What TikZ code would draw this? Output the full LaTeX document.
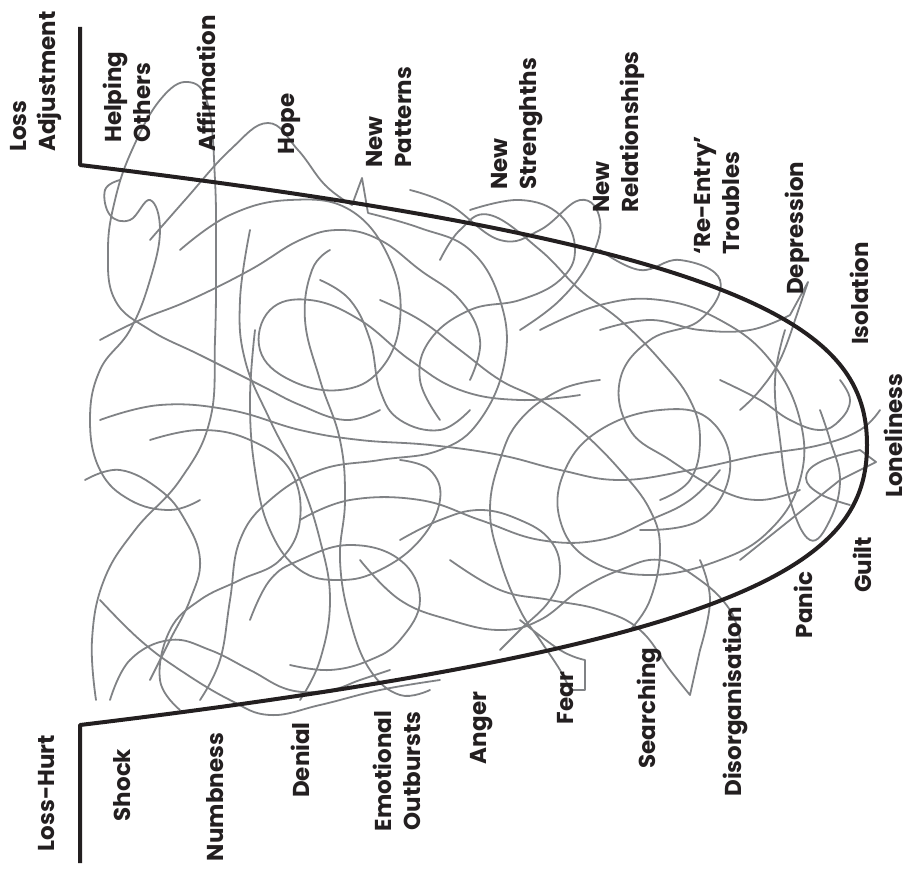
\documentclass[tikz,border=0pt]{standalone}
\usepackage{fontspec}
\setmainfont{Poppins}
\usetikzlibrary{positioning}
\definecolor{CurveBlack}{HTML}{231F20}
\definecolor{ScribbleGray}{HTML}{808285}

\tikzset{
  lbl/.style={rotate=90,inner sep=0pt,text=CurveBlack,
    font=\fontsize{23}{29}\selectfont\bfseries},
  toplbl/.style={lbl,anchor=west,align=left},
  botlbl/.style={lbl,anchor=center,align=center},
  scribble/.style={ScribbleGray,line width=1.8pt},
}

\begin{document}
\begin{tikzpicture}[x=1pt,y=-1pt,line cap=round,line join=round]
  \useasboundingbox (0,0) rectangle (910,872);
  \coordinate (Top) at (80,27);
  \coordinate (TopCorner) at (80,165);
  \coordinate (Vertex) at (867,445);
  \coordinate (BotCorner) at (80,725);
  \coordinate (Bottom) at (80,863);

  % the tangle
  \draw[scribble] plot[smooth,tension=0.7] coordinates {(96,700) (92,640) (104,580) (135,530) (180,480) (210,420) (215,340) (216,260) (215,180) (208,105) (188,82) (160,100) (132,150) (115,200) (108,250) (115,300) (150,330) (200,355) (260,385) (300,405) (345,420) (380,410)};
  \draw[scribble] plot[smooth,tension=0.7] coordinates {(150,240) (185,200) (230,150) (268,123) (298,150) (325,185) (352,205)} -- (362,178) -- (368,213) plot[smooth,tension=0.7] coordinates {(368,213) (420,228) (470,250) (500,300) (505,360) (480,420) (440,450) (380,460) (320,470) (270,500) (240,540) (230,600) (220,660) (200,700)};
  \draw[scribble] plot[smooth,tension=0.7] coordinates {(100,420) (160,405) (230,410) (300,430) (360,440) (430,445) (500,455) (560,470) (620,480) (690,470) (760,455) (820,445) (860,430) (880,410)};
  \draw[scribble] plot[smooth,tension=0.7] coordinates {(540,330) (600,305) (660,300) (720,320) (770,360) (800,420) (800,480) (770,530) (720,560) (650,575) (590,560) (560,520) (565,470) (600,430) (660,410) (710,420) (730,470) (700,520) (640,530)};
  \draw[scribble] plot[smooth,tension=0.7] coordinates {(330,250) (312,270) (305,320) (320,380) (340,440) (345,500) (340,560) (350,620) (370,670) (400,695) (430,690)};
  \draw[scribble] plot[smooth,tension=0.7] coordinates {(255,330) (250,400) (255,470) (270,530) (300,570) (340,580) (380,570) (420,540) (440,500) (430,470) (400,460)};
  \draw[scribble] plot[smooth,tension=0.7] coordinates {(450,560) (500,590) (550,600) (600,610) (640,630) (670,670) (690,695)} -- (700,650) plot[smooth,tension=0.7] coordinates {(700,650) (710,600) (700,560)};
  \draw[scribble] plot[smooth,tension=0.7] coordinates {(520,620) (560,650) (585,660)} -- (585,690) -- (570,690) plot[smooth,tension=0.7] coordinates {(570,690) (560,670) (540,640) (520,610) (500,560) (490,510) (500,460) (520,420) (560,390) (600,380)};
  \draw[scribble] plot[smooth,tension=0.7] coordinates {(470,210) (520,200) (560,215) (575,250) (560,280) (520,300) (470,310) (430,340) (420,380) (440,420)};
  \draw[scribble] plot[smooth,tension=0.7] coordinates {(600,330) (650,320) (700,330) (750,330) (790,315)} -- (808,282) -- (795,320) plot[smooth,tension=0.7] coordinates {(795,320) (780,360) (760,390) (740,410)};
  \draw[scribble] plot[smooth,tension=0.7] coordinates {(785,330) (775,380) (780,440) (790,500) (810,540) (830,520) (840,480) (830,440) (820,410)};
  \draw[scribble] plot[smooth,tension=0.7] coordinates {(740,560) (790,520) (840,480)} -- (876,462) -- (860,450) plot[smooth,tension=0.7] coordinates {(860,450) (820,462) (806,478) (820,494) (850,505)};
  \draw[scribble] plot[smooth,tension=0.7] coordinates {(100,600) (140,640) (180,670) (230,700) (270,715) (320,705) (380,690) (440,680)};
  \draw[scribble] plot[smooth,tension=0.7] coordinates {(85,480) (120,470) (160,490) (185,520) (200,560) (190,600) (170,640) (150,680)};
  \draw[scribble] plot[smooth,tension=0.7] coordinates {(410,190) (450,205) (500,240) (540,230) (580,200) (600,220) (590,260) (560,300) (520,330)};
  \draw[scribble] plot[smooth,tension=0.7] coordinates {(100,340) (140,320) (190,300) (250,270) (300,240) (340,230) (380,240) (420,270) (460,300) (480,340) (470,380)};
  \draw[scribble] plot[smooth,tension=0.7] coordinates {(300,520) (350,500) (420,500) (480,520) (540,540) (600,540) (650,520) (690,500) (720,470)};
  \draw[scribble] plot[smooth,tension=0.7] coordinates {(250,230) (240,300) (245,360) (270,420) (300,480) (320,540) (330,600) (320,660) (300,700)};
  \draw[scribble] plot[smooth,tension=0.7] coordinates {(120,180) (105,190) (110,215) (130,220) (150,200) (160,230) (150,280) (130,330) (100,370) (90,420) (100,470) (130,500) (170,510) (200,500)};
  \draw[scribble] plot[smooth,tension=0.7] coordinates {(180,250) (230,215) (290,200) (350,210) (390,260) (400,320) (380,370) (340,390) (290,380) (260,350) (270,310) (310,300) (360,320) (410,360) (460,390) (520,400) (580,395)};
  \draw[scribble] plot[smooth,tension=0.7] coordinates {(600,250) (640,270) (680,260) (720,280) (700,320) (650,340) (620,380) (630,430) (670,460) (720,490) (760,500) (800,490)};
  \draw[scribble] plot[smooth,tension=0.7] coordinates {(150,440) (200,430) (250,440) (290,470) (300,520) (280,560) (240,580) (200,600) (170,630) (160,680) (180,710)};
  \draw[scribble] plot[smooth,tension=0.7] coordinates {(360,560) (400,600) (450,620) (500,630) (540,620) (580,590) (620,570) (660,560) (700,580) (730,610) (740,640)};
  \draw[scribble] plot[smooth,tension=0.7] coordinates {(440,260) (460,230) (490,215) (540,250) (580,290) (620,320) (660,360) (690,400) (700,440) (690,480) (660,500)};
  \draw[scribble] plot[smooth,tension=0.7] coordinates {(250,620) (270,580) (300,560) (350,545) (400,560) (420,600) (400,640) (370,660) (330,670) (290,665)};
  \draw[scribble] plot[smooth,tension=0.7] coordinates {(380,300) (420,320) (460,350) (500,380) (540,400) (580,430) (620,470) (650,510) (660,550) (650,600) (630,630)};
  \draw[scribble] plot[smooth,tension=0.7] coordinates {(110,700) (130,660) (170,640) (210,650) (250,670) (290,690) (330,690) (360,680) (390,670)};
  \draw[scribble] plot[smooth,tension=0.7] coordinates {(720,380) (760,400) (790,420) (820,430) (840,420) (850,400) (840,380)};
  \draw[scribble] plot[smooth,tension=0.7] coordinates {(500,650) (520,630) (550,600) (560,570) (550,540) (520,520) (480,510) (440,520) (400,540)};
  \draw[scribble] plot[smooth,tension=0.7] coordinates {(320,280) (350,300) (370,340) (380,390) (400,420) (440,430) (470,410)};

  % the outline
  \draw[CurveBlack,line width=4pt,line cap=butt] (Top) -- (TopCorner)
    .. controls (760,247) and (867,330) .. (Vertex)
    .. controls (867,560) and (760,643) .. (BotCorner) -- (Bottom);

  % labels above the curve
  \node[toplbl] (lossadj) at (36,152) {Loss\\Adjustment};
  \node[toplbl] (helping) at (127,143) {Helping\\Others};
  \node[toplbl] (affirm) at (206,152) {Affirmation};
  \node[toplbl] (hope) at (289,155) {Hope};
  \node[toplbl] (patterns) at (389,168) {New\\Patterns};
  \node[toplbl] (strengths) at (517,190) {New\\Strenghths};
  \node[toplbl] (relations) at (619,213) {New\\Relationships};
  \node[toplbl] (reentry) at (717,255) {`Re-Entry'\\Troubles};
  \node[toplbl] (depression) at (797,295) {Depression};
  \node[toplbl] (isolation) at (859,345) {Isolation};
  \node[toplbl] (loneliness) at (893,498) {Loneliness};

  % labels below the curve
  \node[botlbl] (losshurt) at (47,793) {Loss-Hurt};
  \node[botlbl] (shock) at (122,785) {Shock};
  \node[botlbl] (numbness) at (215,797) {Numbness};
  \node[botlbl] (denial) at (300,760) {Denial};
  \node[botlbl] (outbursts) at (397,771) {Emotional\\Outbursts};
  \node[botlbl] (anger) at (482,728) {Anger};
  \node[botlbl] (fear) at (566,698) {Fear};
  \node[botlbl] (searching) at (649,708) {Searching};
  \node[botlbl] (disorg) at (735,702) {Disorganisation};
  \node[botlbl] (panic) at (803,605) {Panic};
  \node[botlbl] (guilt) at (862,565) {Guilt};
\end{tikzpicture}
\end{document}
